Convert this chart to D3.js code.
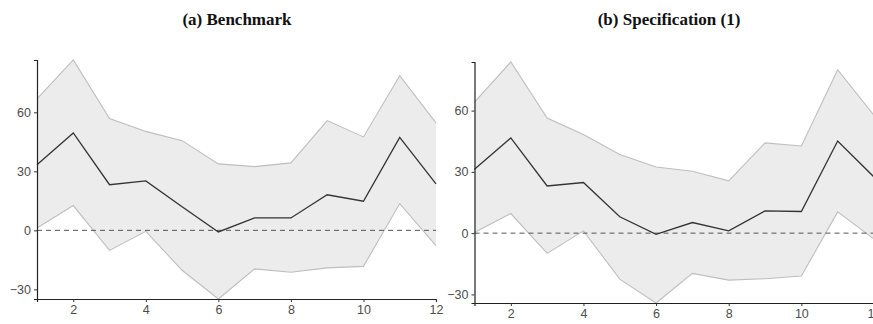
<!DOCTYPE html>
<html>
<head>
<meta charset="utf-8">
<script src="https://cdn.jsdelivr.net/npm/d3@7"></script>
<style>
  body { margin: 0; background: #fff; }
  svg { display: block; }
</style>
</head>
<body>
<div id="chart"></div>
<script>
// horizons 1..12
let horizons = [1, 2, 3, 4, 5, 6, 7, 8, 9, 10, 11, 12];
let xTicks = [2, 4, 6, 8, 10, 12];
let yTicks = [-30, 0, 30, 60];

// (a) Benchmark
let benchEst   = [33.4, 49.5, 23.2, 25.1, 12.0, -0.8, 6.3, 6.3, 18.1, 14.8, 47.3, 23.6];
let benchUpper = [66.8, 86.6, 56.9, 50.3, 45.6, 33.8, 32.4, 34.3, 55.8, 47.5, 78.6, 54.6];
let benchLower = [1.2, 12.6, -10.2, -0.5, -20.3, -34.9, -19.6, -21.3, -19.1, -18.3, 13.6, -7.8];

// (b) Specification (1)
let specEst   = [31.3, 46.6, 23.1, 24.8, 8.0, -0.6, 5.2, 1.1, 10.9, 10.6, 45.1, 27.5];
let specUpper = [64.2, 83.8, 56.4, 48.3, 38.5, 32.4, 30.3, 25.6, 44.2, 42.7, 80.0, 57.7];
let specLower = [0.3, 9.6, -9.9, 1.1, -22.5, -34.2, -19.7, -23.0, -22.3, -21.0, 10.4, -2.9];

let titles = ["(a) Benchmark", "(b) Specification (1)"];

const W = 873, H = 324;
const svg = d3.select("#chart").append("svg")
  .attr("width", W)
  .attr("height", H);

function drawPanel(opts) {
  let g = svg.append("g");

  let x = d3.scaleLinear().domain([1, 12]).range([opts.left, opts.right]);
  let lo = d3.min(opts.lower), hi = d3.max(opts.upper);
  let y = d3.scaleLinear().domain([lo, hi]).range([opts.bottom, opts.top]);

  let rows = horizons.map((h, i) => ({h: h, est: opts.est[i], lo: opts.lower[i], hi: opts.upper[i]}));

  // ribbon
  g.append("path")
    .datum(rows)
    .attr("fill", "#ececec")
    .attr("stroke", "none")
    .attr("d", d3.area().x(d => x(d.h)).y0(d => y(d.lo)).y1(d => y(d.hi)));

  let edge = key => d3.line().x(d => x(d.h)).y(d => y(d[key]));
  ["hi", "lo"].forEach(k => {
    g.append("path")
      .datum(rows)
      .attr("fill", "none")
      .attr("stroke", "#bebebe")
      .attr("stroke-width", 1.1)
      .attr("d", edge(k));
  });

  // zero line
  g.append("line")
    .attr("x1", x(1)).attr("x2", x(12))
    .attr("y1", y(0)).attr("y2", y(0))
    .attr("stroke", "#444")
    .attr("stroke-width", 0.9)
    .attr("stroke-dasharray", "5,4");

  // estimate
  g.append("path")
    .datum(rows)
    .attr("fill", "none")
    .attr("stroke", "#333")
    .attr("stroke-width", 1.3)
    .attr("d", edge("est"));

  // axes
  let xAxis = d3.axisBottom(x).tickValues(xTicks).tickSize(3).tickPadding(3);
  let yAxis = d3.axisLeft(y).tickValues(yTicks).tickSize(3).tickPadding(3);

  let gx = g.append("g").attr("transform", `translate(0,${opts.bottom})`).call(xAxis);
  let gy = g.append("g").attr("transform", `translate(${opts.left},0)`).call(yAxis);

  [gx, gy].forEach(a => {
    a.select(".domain").attr("stroke", "#222").attr("stroke-width", 1.2);
    a.selectAll(".tick line").attr("stroke", "#333");
    a.selectAll(".tick text")
      .attr("fill", "#4d4d4d")
      .attr("font-family", "Liberation Sans, Arial, sans-serif")
      .attr("font-size", 12.5);
  });

  g.append("text")
    .attr("x", opts.titleX)
    .attr("y", 25)
    .attr("text-anchor", "middle")
    .attr("font-family", "Liberation Serif, Times New Roman, serif")
    .attr("font-weight", "bold")
    .attr("font-size", 17)
    .attr("fill", "#111")
    .text(opts.title);
}

drawPanel({
  left: 37, right: 436, top: 60, bottom: 299,
  est: benchEst, upper: benchUpper, lower: benchLower,
  title: titles[0], titleX: 237
});

drawPanel({
  left: 474.5, right: 874, top: 62, bottom: 303,
  est: specEst, upper: specUpper, lower: specLower,
  title: titles[1], titleX: 669
});
</script>
</body>
</html>
